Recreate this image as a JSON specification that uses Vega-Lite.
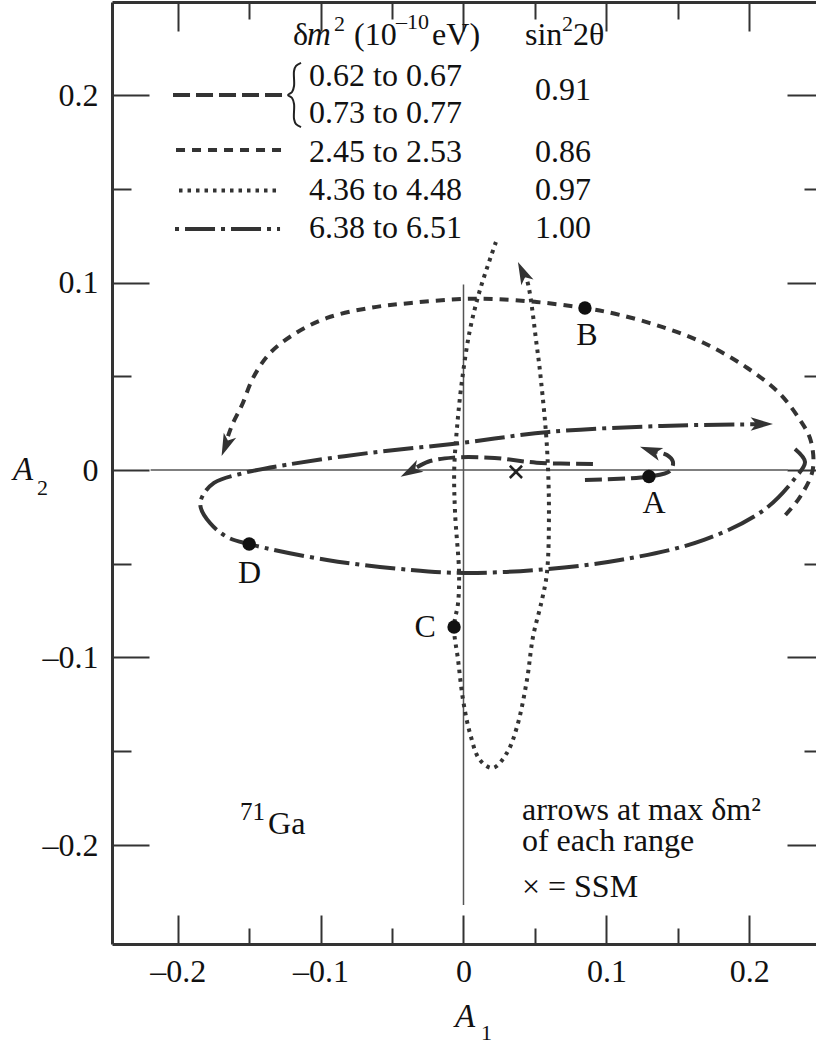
{
  "$schema": "https://vega.github.io/schema/vega-lite/v6.json",
  "width": 704,
  "height": 942,
  "autosize": "none",
  "padding": {"left": 112, "top": 2, "right": 0, "bottom": 100},
  "background": "white",
  "config": {"view": {"stroke": null}, "font": "Liberation Serif"},
  "datasets": {
    "zeros": [
      {"A1": -0.219, "A1end": 0.227, "A2": 0, "A2end": 0},
      {"A1": 0, "A1end": 0, "A2": 0.099, "A2end": -0.232}
    ],
    "key": [
      {"series": "0.62–0.77", "A1": -0.2033, "A2": 0.2},
      {"series": "0.62–0.77", "A1": -0.1263, "A2": 0.2},
      {"series": "2.45–2.53", "A1": -0.2012, "A2": 0.1707},
      {"series": "2.45–2.53", "A1": -0.127, "A2": 0.1707},
      {"series": "4.36–4.48", "A1": -0.1991, "A2": 0.1491},
      {"series": "4.36–4.48", "A1": -0.1284, "A2": 0.1491}
    ],
    "keyDashDot": [
      {"series": "6.38–6.51", "A1": -0.2019, "A2": 0.1285},
      {"series": "6.38–6.51", "A1": -0.1284, "A2": 0.1285}
    ],
    "curves": [
      {"series": "0.62–0.77", "seg": "a", "i": 0, "A1": 0.085, "A2": -0.0053},
      {"series": "0.62–0.77", "seg": "a", "i": 1, "A1": 0.1298, "A2": -0.0035},
      {"series": "0.62–0.77", "seg": "a", "i": 2, "A1": 0.1445, "A2": -0.0005},
      {"series": "0.62–0.77", "seg": "a", "i": 3, "A1": 0.1466, "A2": 0.0043},
      {"series": "0.62–0.77", "seg": "a", "i": 4, "A1": 0.1424, "A2": 0.008},
      {"series": "0.62–0.77", "seg": "a", "i": 5, "A1": 0.1314, "A2": 0.0102},
      {"series": "0.62–0.77", "seg": "b", "i": 0, "A1": 0.0906, "A2": 0.0032},
      {"series": "0.62–0.77", "seg": "b", "i": 1, "A1": 0.0512, "A2": 0.0039},
      {"series": "0.62–0.77", "seg": "b", "i": 2, "A1": 0.0218, "A2": 0.0064},
      {"series": "0.62–0.77", "seg": "b", "i": 3, "A1": -0.0073, "A2": 0.0066},
      {"series": "0.62–0.77", "seg": "b", "i": 4, "A1": -0.0248, "A2": 0.0044},
      {"series": "0.62–0.77", "seg": "b", "i": 5, "A1": -0.0367, "A2": -0.0005},

      {"series": "2.45–2.53", "seg": "a", "i": 0, "A1": 0.2253, "A2": -0.024},
      {"series": "2.45–2.53", "seg": "a", "i": 1, "A1": 0.2355, "A2": -0.0144},
      {"series": "2.45–2.53", "seg": "a", "i": 2, "A1": 0.2444, "A2": 0.0},
      {"series": "2.45–2.53", "seg": "a", "i": 3, "A1": 0.2429, "A2": 0.016},
      {"series": "2.45–2.53", "seg": "a", "i": 4, "A1": 0.2355, "A2": 0.0267},
      {"series": "2.45–2.53", "seg": "a", "i": 5, "A1": 0.2208, "A2": 0.0411},
      {"series": "2.45–2.53", "seg": "a", "i": 6, "A1": 0.1977, "A2": 0.0549},
      {"series": "2.45–2.53", "seg": "a", "i": 7, "A1": 0.1683, "A2": 0.0677},
      {"series": "2.45–2.53", "seg": "a", "i": 8, "A1": 0.1389, "A2": 0.0763},
      {"series": "2.45–2.53", "seg": "a", "i": 9, "A1": 0.1095, "A2": 0.0827},
      {"series": "2.45–2.53", "seg": "a", "i": 10, "A1": 0.0848, "A2": 0.0864},
      {"series": "2.45–2.53", "seg": "a", "i": 11, "A1": 0.0512, "A2": 0.0896},
      {"series": "2.45–2.53", "seg": "a", "i": 12, "A1": 0.0218, "A2": 0.0912},
      {"series": "2.45–2.53", "seg": "a", "i": 13, "A1": -0.0003, "A2": 0.0912},
      {"series": "2.45–2.53", "seg": "a", "i": 14, "A1": -0.0367, "A2": 0.0891},
      {"series": "2.45–2.53", "seg": "a", "i": 15, "A1": -0.0661, "A2": 0.0864},
      {"series": "2.45–2.53", "seg": "a", "i": 16, "A1": -0.0955, "A2": 0.0811},
      {"series": "2.45–2.53", "seg": "a", "i": 17, "A1": -0.1172, "A2": 0.0731},
      {"series": "2.45–2.53", "seg": "a", "i": 18, "A1": -0.1354, "A2": 0.0624},
      {"series": "2.45–2.53", "seg": "a", "i": 19, "A1": -0.1473, "A2": 0.0491},
      {"series": "2.45–2.53", "seg": "a", "i": 20, "A1": -0.155, "A2": 0.0347},
      {"series": "2.45–2.53", "seg": "a", "i": 21, "A1": -0.1613, "A2": 0.0251},
      {"series": "2.45–2.53", "seg": "a", "i": 22, "A1": -0.1648, "A2": 0.0181},

      {"series": "4.36–4.48", "seg": "a", "i": 0, "A1": 0.0227, "A2": 0.1216},
      {"series": "4.36–4.48", "seg": "a", "i": 1, "A1": 0.0115, "A2": 0.096},
      {"series": "4.36–4.48", "seg": "a", "i": 2, "A1": 0.0045, "A2": 0.0747},
      {"series": "4.36–4.48", "seg": "a", "i": 3, "A1": -0.001, "A2": 0.048},
      {"series": "4.36–4.48", "seg": "a", "i": 4, "A1": -0.0045, "A2": 0.0229},
      {"series": "4.36–4.48", "seg": "a", "i": 5, "A1": -0.0065, "A2": 0.0},
      {"series": "4.36–4.48", "seg": "a", "i": 6, "A1": -0.0059, "A2": -0.0229},
      {"series": "4.36–4.48", "seg": "a", "i": 7, "A1": -0.0031, "A2": -0.0549},
      {"series": "4.36–4.48", "seg": "a", "i": 8, "A1": -0.0038, "A2": -0.0709},
      {"series": "4.36–4.48", "seg": "a", "i": 9, "A1": -0.0066, "A2": -0.0837},
      {"series": "4.36–4.48", "seg": "a", "i": 10, "A1": -0.0038, "A2": -0.1013},
      {"series": "4.36–4.48", "seg": "a", "i": 11, "A1": -0.0003, "A2": -0.1227},
      {"series": "4.36–4.48", "seg": "a", "i": 12, "A1": 0.0045, "A2": -0.1403},
      {"series": "4.36–4.48", "seg": "a", "i": 13, "A1": 0.0115, "A2": -0.1547},
      {"series": "4.36–4.48", "seg": "a", "i": 14, "A1": 0.0206, "A2": -0.1589},
      {"series": "4.36–4.48", "seg": "a", "i": 15, "A1": 0.0304, "A2": -0.1509},
      {"series": "4.36–4.48", "seg": "a", "i": 16, "A1": 0.0374, "A2": -0.1371},
      {"series": "4.36–4.48", "seg": "a", "i": 17, "A1": 0.0444, "A2": -0.112},
      {"series": "4.36–4.48", "seg": "a", "i": 18, "A1": 0.0486, "A2": -0.0891},
      {"series": "4.36–4.48", "seg": "a", "i": 19, "A1": 0.0549, "A2": -0.0693},
      {"series": "4.36–4.48", "seg": "a", "i": 20, "A1": 0.0584, "A2": -0.0549},
      {"series": "4.36–4.48", "seg": "a", "i": 21, "A1": 0.0598, "A2": -0.0229},
      {"series": "4.36–4.48", "seg": "a", "i": 22, "A1": 0.0584, "A2": 0.0123},
      {"series": "4.36–4.48", "seg": "a", "i": 23, "A1": 0.0542, "A2": 0.048},
      {"series": "4.36–4.48", "seg": "a", "i": 24, "A1": 0.0514, "A2": 0.0656},
      {"series": "4.36–4.48", "seg": "a", "i": 25, "A1": 0.0444, "A2": 0.1013},
      {"series": "4.36–4.48", "seg": "a", "i": 26, "A1": 0.0416, "A2": 0.1051},

      {"series": "6.38–6.51", "seg": "a", "i": 0, "A1": 0.232, "A2": 0.0112},
      {"series": "6.38–6.51", "seg": "a", "i": 1, "A1": 0.239, "A2": 0.0043},
      {"series": "6.38–6.51", "seg": "a", "i": 2, "A1": 0.2327, "A2": -0.0037},
      {"series": "6.38–6.51", "seg": "a", "i": 3, "A1": 0.2103, "A2": -0.0213},
      {"series": "6.38–6.51", "seg": "a", "i": 4, "A1": 0.1683, "A2": -0.0373},
      {"series": "6.38–6.51", "seg": "a", "i": 5, "A1": 0.1095, "A2": -0.048},
      {"series": "6.38–6.51", "seg": "a", "i": 6, "A1": 0.0512, "A2": -0.0533},
      {"series": "6.38–6.51", "seg": "a", "i": 7, "A1": 0.0, "A2": -0.0549},
      {"series": "6.38–6.51", "seg": "a", "i": 8, "A1": -0.0367, "A2": -0.0533},
      {"series": "6.38–6.51", "seg": "a", "i": 9, "A1": -0.0955, "A2": -0.048},
      {"series": "6.38–6.51", "seg": "a", "i": 10, "A1": -0.15, "A2": -0.0395},
      {"series": "6.38–6.51", "seg": "a", "i": 11, "A1": -0.1655, "A2": -0.0357},
      {"series": "6.38–6.51", "seg": "a", "i": 12, "A1": -0.1774, "A2": -0.0283},
      {"series": "6.38–6.51", "seg": "a", "i": 13, "A1": -0.184, "A2": -0.0197},
      {"series": "6.38–6.51", "seg": "a", "i": 14, "A1": -0.183, "A2": -0.0144},
      {"series": "6.38–6.51", "seg": "a", "i": 15, "A1": -0.1746, "A2": -0.0069},
      {"series": "6.38–6.51", "seg": "a", "i": 16, "A1": -0.1538, "A2": -0.0016},
      {"series": "6.38–6.51", "seg": "a", "i": 17, "A1": -0.1246, "A2": 0.0027},
      {"series": "6.38–6.51", "seg": "a", "i": 18, "A1": -0.0661, "A2": 0.0091},
      {"series": "6.38–6.51", "seg": "a", "i": 19, "A1": -0.0017, "A2": 0.0144},
      {"series": "6.38–6.51", "seg": "a", "i": 20, "A1": 0.0598, "A2": 0.0203},
      {"series": "6.38–6.51", "seg": "a", "i": 21, "A1": 0.1389, "A2": 0.0235},
      {"series": "6.38–6.51", "seg": "a", "i": 22, "A1": 0.2075, "A2": 0.0244}
    ],
    "brace": [
      {"i": 0, "A1": -0.1137, "A2": 0.2171},
      {"i": 1, "A1": -0.1172, "A2": 0.2155},
      {"i": 2, "A1": -0.1186, "A2": 0.2128},
      {"i": 3, "A1": -0.1186, "A2": 0.2048},
      {"i": 4, "A1": -0.12, "A2": 0.2016},
      {"i": 5, "A1": -0.1228, "A2": 0.2},
      {"i": 6, "A1": -0.12, "A2": 0.1984},
      {"i": 7, "A1": -0.1186, "A2": 0.1952},
      {"i": 8, "A1": -0.1186, "A2": 0.1872},
      {"i": 9, "A1": -0.1172, "A2": 0.1845},
      {"i": 10, "A1": -0.1137, "A2": 0.1829}
    ],
    "heads": [
      {"series": "6.38–6.51", "A1": 0.2166, "A2": 0.0245, "heading": 90},
      {"series": "2.45–2.53", "A1": -0.1693, "A2": 0.0075, "heading": 202},
      {"series": "0.62–0.77", "A1": -0.044, "A2": -0.0036, "heading": 241},
      {"series": "0.62–0.77", "A1": 0.1235, "A2": 0.0124, "heading": 290},
      {"series": "4.36–4.48", "A1": 0.0381, "A2": 0.1109, "heading": 335}
    ],
    "dots": [
      {"name": "A", "A1": 0.1298, "A2": -0.0035},
      {"name": "B", "A1": 0.085, "A2": 0.0864},
      {"name": "C", "A1": -0.0066, "A2": -0.0837},
      {"name": "D", "A1": -0.15, "A2": -0.0395}
    ],
    "ssm": [{"name": "SSM", "A1": 0.0367, "A2": -0.001}],
    "textMain": [
      {"label": "δ", "A1": -0.1193, "A2": 0.2267},
      {"label": "(10", "A1": -0.0766, "A2": 0.2267},
      {"label": "eV)", "A1": -0.022, "A2": 0.2267},
      {"label": "sin", "A1": 0.043, "A2": 0.2267},
      {"label": "2θ", "A1": 0.0766, "A2": 0.2267},
      {"label": "0.62 to 0.67", "A1": -0.1081, "A2": 0.2048},
      {"label": "0.73 to 0.77", "A1": -0.1081, "A2": 0.1851},
      {"label": "2.45 to 2.53", "A1": -0.1081, "A2": 0.1643},
      {"label": "4.36 to 4.48", "A1": -0.1081, "A2": 0.144},
      {"label": "6.38 to 6.51", "A1": -0.1081, "A2": 0.1237},
      {"label": "arrows at max δm²", "A1": 0.0409, "A2": -0.1867},
      {"label": "of each range", "A1": 0.0409, "A2": -0.2032},
      {"label": "× = SSM", "A1": 0.0409, "A2": -0.2277},
      {"label": "Ga", "A1": -0.1368, "A2": -0.1941}
    ],
    "textCenter": [
      {"label": "0.91", "A1": 0.0696, "A2": 0.1973},
      {"label": "0.86", "A1": 0.0696, "A2": 0.1643},
      {"label": "0.97", "A1": 0.0696, "A2": 0.144},
      {"label": "1.00", "A1": 0.0696, "A2": 0.1237},
      {"label": "A", "A1": 0.1333, "A2": -0.0229},
      {"label": "B", "A1": 0.0863, "A2": 0.0667},
      {"label": "C", "A1": -0.0269, "A2": -0.0891},
      {"label": "D", "A1": -0.1498, "A2": -0.0603}
    ],
    "textItalic": [
      {"label": "m", "A1": -0.1095, "A2": 0.2267},
      {"label": "A", "A1": -0.3153, "A2": -0.0053},
      {"label": "A", "A1": -0.006, "A2": -0.2971}
    ],
    "textSmall": [
      {"label": "2", "A1": -0.0906, "A2": 0.2341},
      {"label": "–10", "A1": -0.0472, "A2": 0.2352},
      {"label": "2", "A1": 0.0689, "A2": 0.2341},
      {"label": "2", "A1": -0.2985, "A2": -0.0133},
      {"label": "1", "A1": 0.0122, "A2": -0.304}
    ],
    "textIsotope": [
      {"label": "71", "A1": -0.1564, "A2": -0.1867}
    ]
  },
  "encoding": {
    "x": {"field": "A1", "type": "quantitative", "scale": {"domain": [-0.246, 0.2467], "nice": false, "zero": false}, "axis": null},
    "y": {"field": "A2", "type": "quantitative", "scale": {"domain": [-0.2528, 0.2496], "nice": false, "zero": false}, "axis": null}
  },
  "layer": [
    {
      "data": {"name": "zeros"},
      "mark": {"type": "rule", "color": "#555555", "strokeWidth": 1.5},
      "encoding": {
        "x": {
          "field": "A1", "type": "quantitative",
          "scale": {"domain": [-0.246, 0.2467], "nice": false, "zero": false},
          "axis": {
            "orient": "bottom", "title": null, "grid": false,
            "values": [-0.2, -0.15, -0.1, -0.05, 0, 0.05, 0.1, 0.15, 0.2],
            "domainColor": "#333333", "domainWidth": 3,
            "tickColor": "#333333", "tickWidth": 2,
            "tickSize": {"condition": {"test": "abs(datum.value * 10 - round(datum.value * 10)) > 0.01", "value": -16}, "value": -29},
            "labelExpr": "abs(datum.value * 10 - round(datum.value * 10)) > 0.01 ? '' : datum.value < 0 ? '–' + format(-datum.value, '.1f') : datum.value == 0 ? '0' : format(datum.value, '.1f')",
            "labelFont": "Liberation Serif", "labelFontSize": 32, "labelColor": "#111111",
            "labelPadding": 41, "labelFlush": false, "labelOverlap": false
          }
        },
        "y": {
          "field": "A2", "type": "quantitative",
          "scale": {"domain": [-0.2528, 0.2496], "nice": false, "zero": false},
          "axis": {
            "orient": "left", "title": null, "grid": false,
            "values": [-0.2, -0.15, -0.1, -0.05, 0, 0.05, 0.1, 0.15, 0.2],
            "domainColor": "#333333", "domainWidth": 3,
            "tickColor": "#333333", "tickWidth": 2,
            "tickSize": {"condition": {"test": "abs(datum.value * 10 - round(datum.value * 10)) > 0.01", "value": -19}, "value": -37},
            "labelExpr": "abs(datum.value * 10 - round(datum.value * 10)) > 0.01 ? '' : datum.value < 0 ? '–' + format(-datum.value, '.1f') : datum.value == 0 ? '0' : format(datum.value, '.1f')",
            "labelFont": "Liberation Serif", "labelFontSize": 32, "labelColor": "#111111",
            "labelPadding": 51, "labelFlush": false, "labelOverlap": false
          }
        },
        "x2": {"field": "A1end"},
        "y2": {"field": "A2end"}
      }
    },
    {
      "data": {"name": "key"},
      "mark": {"type": "line", "color": "#333333", "strokeWidth": 4},
      "encoding": {
        "x": {
          "field": "A1", "type": "quantitative",
          "scale": {"domain": [-0.246, 0.2467], "nice": false, "zero": false},
          "axis": {
            "orient": "top", "title": null, "grid": false, "labels": false,
            "values": [-0.2, -0.15, -0.1, -0.05, 0, 0.05, 0.1, 0.15, 0.2],
            "domainColor": "#333333", "domainWidth": 3,
            "tickColor": "#333333", "tickWidth": 2,
            "tickSize": {"condition": {"test": "abs(datum.value * 10 - round(datum.value * 10)) > 0.01", "value": -17}, "value": -29}
          }
        },
        "y": {
          "field": "A2", "type": "quantitative",
          "scale": {"domain": [-0.2528, 0.2496], "nice": false, "zero": false},
          "axis": {
            "orient": "right", "title": null, "grid": false, "labels": false, "domain": false,
            "values": [-0.2, -0.15, -0.1, -0.05, 0, 0.05, 0.1, 0.15, 0.2],
            "tickColor": "#333333", "tickWidth": 2,
            "tickSize": {"condition": {"test": "abs(datum.value * 10 - round(datum.value * 10)) > 0.01", "value": -12}, "value": -29}
          }
        },
        "strokeDash": {
          "field": "series", "type": "nominal", "legend": null,
          "scale": {"domain": ["0.62–0.77", "2.45–2.53", "4.36–4.48", "6.38–6.51"], "range": [[17, 6], [9, 7], [3.5, 5], [30, 6, 4, 6]]}
        }
      }
    },
    {
      "data": {"name": "keyDashDot"},
      "mark": {"type": "line", "color": "#333333", "strokeWidth": 4, "strokeDashOffset": 36},
      "encoding": {
        "strokeDash": {
          "field": "series", "type": "nominal", "legend": null,
          "scale": {"domain": ["0.62–0.77", "2.45–2.53", "4.36–4.48", "6.38–6.51"], "range": [[17, 6], [9, 7], [3.5, 5], [30, 6, 4, 6]]}
        }
      }
    },
    {
      "data": {"name": "curves"},
      "mark": {"type": "line", "color": "#333333", "strokeWidth": 4, "interpolate": "catmull-rom"},
      "encoding": {
        "strokeDash": {
          "field": "series", "type": "nominal", "legend": null,
          "scale": {"domain": ["0.62–0.77", "2.45–2.53", "4.36–4.48", "6.38–6.51"], "range": [[17, 6], [9, 7], [3.5, 5], [30, 6, 4, 6]]}
        },
        "detail": {"field": "seg", "type": "nominal"},
        "order": {"field": "i", "type": "quantitative"}
      }
    },
    {
      "data": {"name": "brace"},
      "mark": {"type": "line", "color": "#222222", "strokeWidth": 2, "interpolate": "catmull-rom"},
      "encoding": {"order": {"field": "i", "type": "quantitative"}}
    },
    {
      "data": {"name": "heads"},
      "mark": {"type": "point", "shape": "M0,0L0.6,2L0,1.5L-0.6,2Z", "filled": true, "color": "#333333", "opacity": 1, "size": 500},
      "encoding": {"angle": {"field": "heading", "type": "quantitative", "scale": null}}
    },
    {
      "data": {"name": "dots"},
      "mark": {"type": "point", "shape": "circle", "filled": true, "color": "#111111", "opacity": 1, "size": 180}
    },
    {
      "data": {"name": "ssm"},
      "mark": {"type": "point", "shape": "M-1,-1L1,1M-1,1L1,-1", "filled": false, "color": "#222222", "opacity": 1, "strokeWidth": 2.5, "size": 150}
    },
    {
      "data": {"name": "textMain"},
      "mark": {"type": "text", "align": "left", "baseline": "alphabetic", "font": "Liberation Serif", "fontSize": 32, "color": "#111111"},
      "encoding": {"text": {"field": "label", "type": "nominal"}}
    },
    {
      "data": {"name": "textCenter"},
      "mark": {"type": "text", "align": "center", "baseline": "alphabetic", "font": "Liberation Serif", "fontSize": 32, "color": "#111111"},
      "encoding": {"text": {"field": "label", "type": "nominal"}}
    },
    {
      "data": {"name": "textItalic"},
      "mark": {"type": "text", "align": "left", "baseline": "alphabetic", "font": "Liberation Serif", "fontStyle": "italic", "fontSize": 33, "color": "#111111"},
      "encoding": {"text": {"field": "label", "type": "nominal"}}
    },
    {
      "data": {"name": "textSmall"},
      "mark": {"type": "text", "align": "left", "baseline": "alphabetic", "font": "Liberation Serif", "fontSize": 22, "color": "#111111"},
      "encoding": {"text": {"field": "label", "type": "nominal"}}
    },
    {
      "data": {"name": "textIsotope"},
      "mark": {"type": "text", "align": "left", "baseline": "alphabetic", "font": "Liberation Serif", "fontSize": 25, "color": "#111111"},
      "encoding": {"text": {"field": "label", "type": "nominal"}}
    }
  ],
  "resolve": {"axis": {"x": "independent", "y": "independent"}}
}
